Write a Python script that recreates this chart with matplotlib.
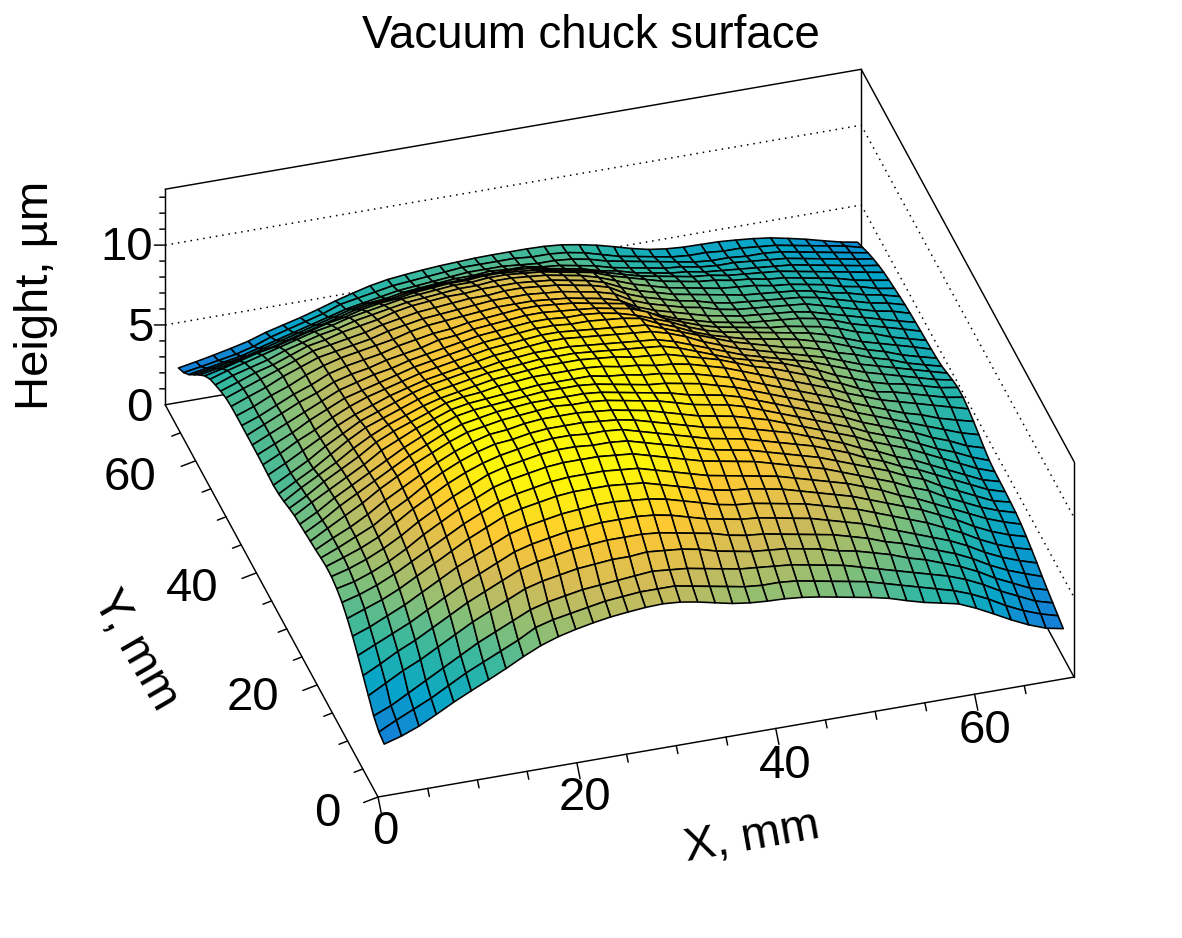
import numpy as np
import matplotlib
matplotlib.use("Agg")
import matplotlib.pyplot as plt
from matplotlib.colors import LinearSegmentedColormap, Normalize
from mpl_toolkits.mplot3d import proj3d

plt.rcParams["font.family"] = ["Liberation Sans", "DejaVu Sans"]

W, H = 1182, 938

title_text = "Vacuum chuck surface"
x_label = "X, mm"
y_label = "Y, mm"
z_label = "Height, µm"

x_range = (0, 70)
y_range = (0, 70)
z_range = (0, 13.5)

x_major = [0, 20, 40, 60]
y_major = [0, 20, 40, 60]
z_major = [0, 5, 10]
x_minor = [5, 10, 15, 25, 30, 35, 45, 50, 55, 65]
y_minor = [5, 10, 15, 25, 30, 35, 45, 50, 55, 65]
z_minor = [1, 2, 3, 4, 6, 7, 8, 9, 11, 12, 13]

# measured chuck height in µm: one row per Y position, one column per X position
height_um = np.array([
[2.90,3.22,3.65,4.20,4.78,5.30,5.80,6.32,6.88,7.38,7.75,8.02,8.24,8.42,8.54,8.64,8.68,8.60,8.42,8.18,7.95,7.80,7.72,7.68,7.58,7.42,7.22,7.02,6.82,6.58,6.25,5.95,5.72,5.48,5.02,4.48,3.92,3.42,3.02,2.80],
[3.05,3.6,4.1,4.6,5.2,5.8,6.3,6.8,7.3,7.9,8.2,8.4,8.6,8.8,8.9,9.0,9.0,9.0,8.8,8.6,8.4,8.2,8.1,8.1,8.0,7.8,7.6,7.4,7.2,6.9,6.6,6.3,6.0,5.7,5.3,4.8,4.2,3.7,3.3,3.00],
[3.45,3.9,4.5,5.1,5.7,6.3,6.9,7.4,7.9,8.4,8.7,8.9,9.1,9.2,9.3,9.4,9.5,9.4,9.3,9.1,8.9,8.7,8.6,8.5,8.4,8.2,8.0,7.8,7.5,7.2,6.9,6.6,6.3,6.0,5.6,5.1,4.5,4.0,3.5,3.20],
[4.10,4.7,5.3,5.8,6.4,7.0,7.6,8.1,8.6,9.1,9.4,9.6,9.8,9.9,10.0,10.0,10.1,10.0,9.9,9.7,9.4,9.2,9.0,8.9,8.8,8.6,8.4,8.1,7.9,7.6,7.3,6.9,6.6,6.2,5.8,5.3,4.7,4.2,3.7,3.40],
[4.75,5.3,5.9,6.4,7.0,7.6,8.2,8.7,9.2,9.7,10.0,10.2,10.4,10.5,10.6,10.6,10.6,10.5,10.3,10.1,9.9,9.6,9.4,9.3,9.1,8.9,8.7,8.5,8.2,7.9,7.5,7.2,6.8,6.4,6.0,5.5,4.9,4.4,4.0,3.63],
[5.40,5.9,6.4,6.9,7.5,8.1,8.7,9.2,9.7,10.2,10.5,10.7,10.9,11.0,11.1,11.1,11.1,11.0,10.8,10.5,10.2,10.0,9.8,9.7,9.5,9.3,9.1,8.8,8.5,8.2,7.8,7.4,7.0,6.6,6.2,5.7,5.1,4.6,4.2,3.87],
[6.00,6.4,6.9,7.4,8.0,8.6,9.2,9.7,10.2,10.7,11.0,11.2,11.4,11.5,11.6,11.6,11.5,11.4,11.2,10.9,10.6,10.3,10.1,10.0,9.8,9.6,9.4,9.1,8.8,8.5,8.1,7.7,7.3,6.9,6.4,5.9,5.3,4.8,4.4,4.10],
[6.50,6.9,7.3,7.8,8.4,9.0,9.6,10.2,10.7,11.2,11.5,11.7,11.9,12.0,12.0,12.0,11.9,11.8,11.5,11.2,10.9,10.6,10.4,10.3,10.1,9.9,9.6,9.3,9.0,8.7,8.3,7.9,7.5,7.1,6.6,6.1,5.5,5.0,4.6,4.30],
[6.90,7.2,7.6,8.1,8.7,9.3,9.9,10.5,11.0,11.5,11.8,12.0,12.2,12.3,12.3,12.3,12.2,12.1,11.8,11.5,11.2,10.9,10.7,10.5,10.3,10.1,9.8,9.5,9.2,8.9,8.5,8.1,7.6,7.2,6.7,6.2,5.7,5.2,4.8,4.47],
[7.15,7.4,7.8,8.3,8.9,9.6,10.2,10.8,11.3,11.8,12.1,12.3,12.5,12.6,12.6,12.6,12.5,12.4,12.1,11.8,11.5,11.2,11.0,10.8,10.6,10.3,10.0,9.7,9.4,9.0,8.6,8.2,7.8,7.3,6.9,6.3,5.8,5.3,4.9,4.58],
[7.30,7.6,8.0,8.5,9.1,9.8,10.4,11.0,11.5,12.0,12.3,12.5,12.7,12.8,12.8,12.7,12.7,12.6,12.3,12.0,11.7,11.4,11.1,10.9,10.7,10.4,10.1,9.8,9.5,9.1,8.7,8.3,7.9,7.4,7.0,6.4,5.9,5.4,4.9,4.63],
[7.32,7.7,8.1,8.6,9.3,10.0,10.6,11.2,11.7,12.1,12.4,12.6,12.8,12.9,12.9,12.8,12.8,12.7,12.4,12.1,11.8,11.5,11.2,11.0,10.8,10.5,10.2,9.9,9.6,9.2,8.8,8.3,7.9,7.4,7.0,6.5,6.0,5.5,5.0,4.67],
[7.25,7.7,8.2,8.7,9.4,10.0,10.7,11.3,11.8,12.2,12.5,12.6,12.8,12.9,12.9,12.9,12.8,12.7,12.5,12.2,11.9,11.6,11.3,11.1,10.9,10.6,10.3,10.0,9.6,9.2,8.8,8.3,7.9,7.4,7.0,6.5,6.0,5.5,5.0,4.70],
[7.15,7.7,8.2,8.8,9.5,10.1,10.7,11.3,11.8,12.2,12.5,12.6,12.8,12.9,12.9,12.9,12.8,12.7,12.5,12.3,12.0,11.7,11.4,11.2,11.0,10.7,10.4,10.0,9.6,9.2,8.8,8.4,7.9,7.5,7.1,6.6,6.1,5.6,5.1,4.72],
[7.08,7.7,8.3,8.9,9.6,10.2,10.8,11.3,11.8,12.2,12.4,12.6,12.7,12.8,12.9,12.8,12.8,12.7,12.5,12.3,12.1,11.8,11.5,11.3,11.1,10.8,10.4,10.0,9.6,9.2,8.8,8.4,7.9,7.5,7.1,6.6,6.1,5.7,5.2,4.80],
[7.00,7.6,8.3,8.9,9.5,10.1,10.7,11.2,11.7,12.1,12.3,12.5,12.6,12.7,12.7,12.7,12.7,12.6,12.4,12.2,12.0,11.8,11.5,11.3,11.1,10.8,10.4,10.0,9.6,9.2,8.8,8.4,7.9,7.5,7.1,6.7,6.2,5.8,5.3,4.98],
[6.92,7.5,8.2,8.8,9.4,10.0,10.6,11.1,11.6,12.0,12.2,12.3,12.4,12.5,12.6,12.6,12.6,12.5,12.3,12.1,11.9,11.8,11.6,11.4,11.1,10.8,10.4,10.0,9.6,9.2,8.8,8.4,7.9,7.5,7.1,6.7,6.3,5.9,5.5,5.20],
[6.85,7.5,8.1,8.7,9.3,10.0,10.5,11.0,11.4,11.8,12.0,12.1,12.2,12.3,12.4,12.4,12.4,12.4,12.2,12.1,11.9,11.8,11.6,11.4,11.1,10.8,10.4,10.0,9.6,9.2,8.8,8.4,7.9,7.5,7.1,6.7,6.4,6.0,5.7,5.42],
[6.70,7.3,8.0,8.6,9.2,9.9,10.4,10.8,11.2,11.6,11.8,11.9,12.1,12.2,12.3,12.3,12.3,12.3,12.2,12.0,11.9,11.7,11.6,11.4,11.1,10.8,10.4,10.0,9.6,9.2,8.8,8.4,7.9,7.5,7.1,6.8,6.5,6.2,5.9,5.60],
[6.52,7.2,7.8,8.4,9.1,9.7,10.2,10.6,11.0,11.3,11.5,11.7,11.9,12.0,12.1,12.2,12.2,12.2,12.1,12.0,11.8,11.7,11.6,11.3,11.0,10.7,10.3,9.9,9.6,9.2,8.8,8.3,7.9,7.4,7.0,6.8,6.5,6.2,5.9,5.72],
[6.38,7.0,7.6,8.3,9.0,9.6,10.0,10.4,10.8,11.1,11.3,11.5,11.7,11.8,11.9,12.0,12.0,12.0,11.9,11.8,11.7,11.6,11.5,11.2,10.8,10.4,10.0,9.7,9.4,9.1,8.7,8.3,7.8,7.4,7.0,6.7,6.5,6.2,5.9,5.72],
[6.32,6.9,7.5,8.2,8.8,9.4,9.8,10.2,10.6,10.9,11.1,11.3,11.4,11.6,11.7,11.8,11.8,11.8,11.7,11.6,11.5,11.4,11.3,11.0,10.6,10.2,9.8,9.4,9.1,8.8,8.5,8.2,7.8,7.4,7.0,6.7,6.4,6.1,5.8,5.58],
[6.35,6.9,7.5,8.1,8.7,9.2,9.6,10.0,10.3,10.6,10.8,11.0,11.2,11.4,11.5,11.6,11.7,11.7,11.6,11.5,11.4,11.3,11.2,10.9,10.5,10.0,9.6,9.2,8.9,8.6,8.3,8.0,7.7,7.3,6.9,6.6,6.3,6.0,5.7,5.40],
[6.38,6.9,7.5,8.0,8.6,9.1,9.5,9.8,10.1,10.4,10.6,10.8,11.0,11.2,11.3,11.4,11.5,11.5,11.4,11.3,11.2,11.1,11.0,10.6,10.2,9.8,9.4,9.0,8.7,8.4,8.1,7.9,7.6,7.2,6.9,6.5,6.2,5.8,5.5,5.22],
[6.40,6.9,7.4,8.0,8.5,9.0,9.3,9.6,9.9,10.2,10.4,10.6,10.8,11.0,11.1,11.2,11.3,11.3,11.2,11.2,11.1,11.0,10.8,10.3,9.9,9.4,9.0,8.7,8.4,8.2,8.0,7.8,7.5,7.2,6.8,6.4,6.1,5.7,5.4,5.12],
[6.40,6.9,7.4,7.9,8.4,8.9,9.2,9.5,9.7,10.0,10.2,10.4,10.6,10.8,10.9,11.0,11.1,11.1,11.0,11.0,10.9,10.7,10.4,10.0,9.6,9.1,8.7,8.4,8.2,8.0,7.8,7.6,7.4,7.1,6.7,6.3,6.0,5.7,5.4,5.07],
[6.40,6.9,7.4,7.9,8.3,8.8,9.1,9.3,9.6,9.8,10.0,10.3,10.4,10.6,10.7,10.8,10.9,10.9,10.8,10.7,10.6,10.4,10.2,9.8,9.2,8.8,8.4,8.1,7.9,7.7,7.5,7.4,7.2,7.0,6.7,6.3,6.0,5.6,5.3,5.02],
[6.40,6.8,7.3,7.8,8.2,8.7,9.0,9.2,9.4,9.7,9.9,10.1,10.2,10.4,10.5,10.6,10.7,10.7,10.6,10.5,10.3,10.1,9.9,9.2,8.8,8.4,8.1,7.8,7.6,7.4,7.3,7.2,7.1,6.9,6.6,6.2,5.9,5.6,5.3,4.98],
[6.40,6.8,7.3,7.7,8.2,8.6,8.9,9.1,9.3,9.5,9.8,10.0,10.1,10.2,10.3,10.4,10.4,10.4,10.3,10.2,10.0,9.8,9.5,8.9,8.5,8.2,7.9,7.6,7.4,7.2,7.1,7.0,6.9,6.7,6.4,6.1,5.8,5.5,5.2,4.93],
[6.38,6.8,7.2,7.7,8.1,8.5,8.7,8.9,9.1,9.4,9.6,9.8,9.9,10.0,10.1,10.2,10.2,10.2,10.1,10.0,9.8,9.6,9.3,8.7,8.3,8.0,7.7,7.5,7.2,7.0,6.9,6.8,6.7,6.6,6.3,6.0,5.7,5.4,5.2,4.88],
[6.30,6.7,7.1,7.5,7.9,8.3,8.5,8.7,8.9,9.2,9.4,9.6,9.7,9.8,9.9,9.9,10.0,10.0,9.9,9.8,9.6,9.4,9.1,8.5,8.1,7.8,7.5,7.3,7.0,6.8,6.7,6.6,6.5,6.4,6.2,5.9,5.6,5.3,5.1,4.81],
[6.12,6.5,6.9,7.2,7.6,8.0,8.2,8.5,8.7,8.9,9.2,9.4,9.5,9.6,9.6,9.7,9.7,9.7,9.6,9.5,9.3,9.1,8.8,8.3,7.9,7.6,7.3,7.1,6.9,6.7,6.5,6.4,6.3,6.2,6.0,5.7,5.5,5.2,5.0,4.72],
[5.90,6.3,6.6,6.9,7.3,7.6,7.9,8.1,8.4,8.6,8.8,9.0,9.1,9.2,9.3,9.3,9.4,9.4,9.3,9.2,9.0,8.8,8.5,8.1,7.7,7.4,7.1,6.9,6.7,6.5,6.4,6.3,6.1,6.0,5.8,5.6,5.3,5.1,4.8,4.62],
[5.65,6.0,6.3,6.6,6.9,7.2,7.5,7.7,8.0,8.2,8.4,8.6,8.7,8.8,8.9,8.9,9.0,9.0,8.9,8.8,8.6,8.4,8.2,7.8,7.5,7.2,6.9,6.7,6.5,6.4,6.2,6.1,5.9,5.8,5.6,5.4,5.2,4.9,4.7,4.52],
[5.25,5.5,5.8,6.1,6.3,6.6,6.9,7.2,7.4,7.7,7.9,8.0,8.2,8.3,8.4,8.4,8.5,8.5,8.4,8.3,8.1,7.9,7.7,7.4,7.1,6.8,6.6,6.4,6.2,6.1,5.9,5.8,5.7,5.6,5.4,5.2,5.0,4.8,4.6,4.40],
[4.70,4.9,5.1,5.4,5.6,5.9,6.2,6.5,6.8,7.1,7.3,7.4,7.6,7.7,7.8,7.8,7.9,7.9,7.9,7.8,7.6,7.4,7.2,6.9,6.7,6.4,6.2,6.0,5.9,5.7,5.6,5.5,5.4,5.3,5.2,5.0,4.8,4.6,4.4,4.23],
[4.10,4.3,4.5,4.7,5.0,5.3,5.6,5.9,6.2,6.5,6.7,6.8,7.0,7.1,7.2,7.3,7.3,7.4,7.3,7.3,7.1,7.0,6.8,6.6,6.3,6.1,5.9,5.7,5.6,5.4,5.3,5.3,5.2,5.1,5.0,4.8,4.6,4.4,4.2,4.03],
[3.50,3.7,3.9,4.1,4.4,4.7,5.0,5.3,5.6,5.9,6.1,6.3,6.5,6.6,6.7,6.8,6.9,6.9,6.9,6.8,6.7,6.7,6.6,6.4,6.1,5.9,5.7,5.5,5.3,5.1,5.0,5.0,4.9,4.9,4.8,4.6,4.4,4.2,4.0,3.80],
[3.02,3.2,3.4,3.6,3.9,4.3,4.6,4.9,5.2,5.6,5.8,6.0,6.2,6.3,6.4,6.5,6.6,6.6,6.6,6.6,6.5,6.5,6.4,6.2,5.9,5.6,5.4,5.2,5.0,4.9,4.9,4.8,4.8,4.7,4.6,4.4,4.2,4.0,3.8,3.52],
[2.70,2.90,3.12,3.36,3.62,3.98,4.26,4.54,4.86,5.20,5.50,5.78,5.98,6.10,6.20,6.28,6.33,6.38,6.40,6.40,6.40,6.37,6.28,6.10,5.88,5.60,5.30,5.05,4.90,4.82,4.80,4.78,4.70,4.60,4.46,4.24,4.00,3.72,3.45,3.25],
])

# centres of the measurement cells
x_nodes = np.linspace(0.9, 69.2, height_um.shape[1])
y_nodes = np.linspace(0.9, 68.6, height_um.shape[0])

# ROOT "bird" palette stops
bird = LinearSegmentedColormap.from_list("bird", [
    (0.000, (0.2082, 0.1664, 0.5293)),
    (0.125, (0.0592, 0.3599, 0.8684)),
    (0.250, (0.0780, 0.5041, 0.8385)),
    (0.375, (0.0232, 0.6419, 0.7914)),
    (0.500, (0.1802, 0.7178, 0.6425)),
    (0.625, (0.5301, 0.7492, 0.4662)),
    (0.750, (0.8186, 0.7328, 0.3499)),
    (0.875, (0.9956, 0.7862, 0.1968)),
    (1.000, (0.9900, 0.9700, 0.0300)),
], N=256)

fig = plt.figure(figsize=(W / 100, H / 100), dpi=100, facecolor="white")
ax = fig.add_axes([0, 0, 1, 1], projection="3d", proj_type="ortho", computed_zorder=False)
ax.view_init(elev=34.3, azim=-107)
ax.set_box_aspect((1, 1, 0.3585))
ax.set_xlim(*x_range)
ax.set_ylim(*y_range)
ax.set_zlim(*z_range)
ax.set_axis_off()
ax.patch.set_alpha(0)


def to_pixels(x, y, z):
    px, py, _ = proj3d.proj_transform(x, y, z, ax.get_proj())
    return ax.transData.transform((px, py))


# place the 3D box on the canvas: origin and far end of the X axis fix scale and offset
origin_target = np.array([378.0, H - 797.0])
xend_target = np.array([1074.0, H - 677.0])
side = 1000.0
corner = np.array([100.0, 0.0])
for _ in range(4):
    ax.set_position([corner[0] / W, corner[1] / H, side / W, side / H])
    ax.apply_aspect()
    a = to_pixels(x_range[0], y_range[0], z_range[0])
    b = to_pixels(x_range[1], y_range[0], z_range[0])
    side *= np.linalg.norm(xend_target - origin_target) / np.linalg.norm(b - a)
    ax.set_position([corner[0] / W, corner[1] / H, side / W, side / H])
    ax.apply_aspect()
    corner += origin_target - to_pixels(x_range[0], y_range[0], z_range[0])
ax.set_position([corner[0] / W, corner[1] / H, side / W, side / H])

x0, x1 = x_range
y0, y1 = y_range
z0, z1 = z_range
line = dict(color="black", lw=1.05, solid_capstyle="round")

# walls behind the surface
back = [
    ([x0, x0], [y1, y1], [z0, z1]),
    ([x1, x1], [y1, y1], [z0, z1]),
    ([x1, x1], [y0, y0], [z0, z1]),
    ([x0, x1], [y1, y1], [z1, z1]),
    ([x1, x1], [y0, y1], [z1, z1]),
    ([x0, x1], [y1, y1], [z0, z0]),
    ([x1, x1], [y0, y1], [z0, z0]),
]
for xs, ys, zs in back:
    ax.plot(xs, ys, zs, zorder=1, **line)

for z in z_major[1:]:
    ax.plot([x0, x1, x1], [y1, y1, y0], [z, z, z], color="black", lw=1.1,
            linestyle=(0, (1, 3.2)), zorder=1)

ax.plot([x0, x1], [y0, y0], [z0, z0], zorder=1, **line)
ax.plot([x0, x0], [y0, y1], [z0, z0], zorder=1, **line)

ax.plot_surface(*np.meshgrid(x_nodes, y_nodes), height_um, rstride=1, cstride=1,
                cmap=bird, norm=Normalize(0, 12.2), shade=False,
                edgecolor="black", linewidth=1.15, antialiased=True, zorder=2)


def tick_set(values, start, offset, scale):
    for v in values:
        s = start(v)
        ax.plot([s[0], s[0] + offset[0] * scale], [s[1], s[1] + offset[1] * scale],
                [s[2], s[2]], zorder=1, **line)


x_dir = (-0.5, -2.7)
y_dir = (-1.6, -0.5)
z_dir = (-1.0, 0.305)
tick_set(x_major, lambda v: (v, y0, z0), x_dir, 1.0)
tick_set(x_minor, lambda v: (v, y0, z0), x_dir, 0.5)
tick_set(y_major, lambda v: (x0, v, z0), y_dir, 1.0)
tick_set(y_minor, lambda v: (x0, v, z0), y_dir, 0.6)
tick_set(z_major[1:], lambda v: (x0, y1, v), z_dir, 1.0)
tick_set(z_minor, lambda v: (x0, y1, v), z_dir, 0.5)


def put(px, py, text, size, **kw):
    fig.text(px / W, 1 - py / H, text, fontsize=size, ha=kw.pop("ha", "center"),
             va="center", **kw)


put(591, 36, title_text, 32.9)

for v, (px, py) in zip(x_major, [(385, 832), (585, 798), (785, 766), (985, 731)]):
    put(px, py, str(v), 34)
for v, (px, py) in zip(y_major, [(327, 814), (253, 698), (192, 589), (130, 478)]):
    put(px, py, str(v), 34)
for v, (px, py) in zip(z_major, [(153, 409), (153, 329), (153, 248)]):
    put(px, py, str(v), 34, ha="right")

put(752, 837, x_label, 34, rotation=10, rotation_mode="anchor")
put(135, 650, y_label, 34, rotation=-60, rotation_mode="anchor")
put(36, 295, z_label, 34, rotation=90, rotation_mode="anchor")

fig.savefig("out.png", dpi=100)
